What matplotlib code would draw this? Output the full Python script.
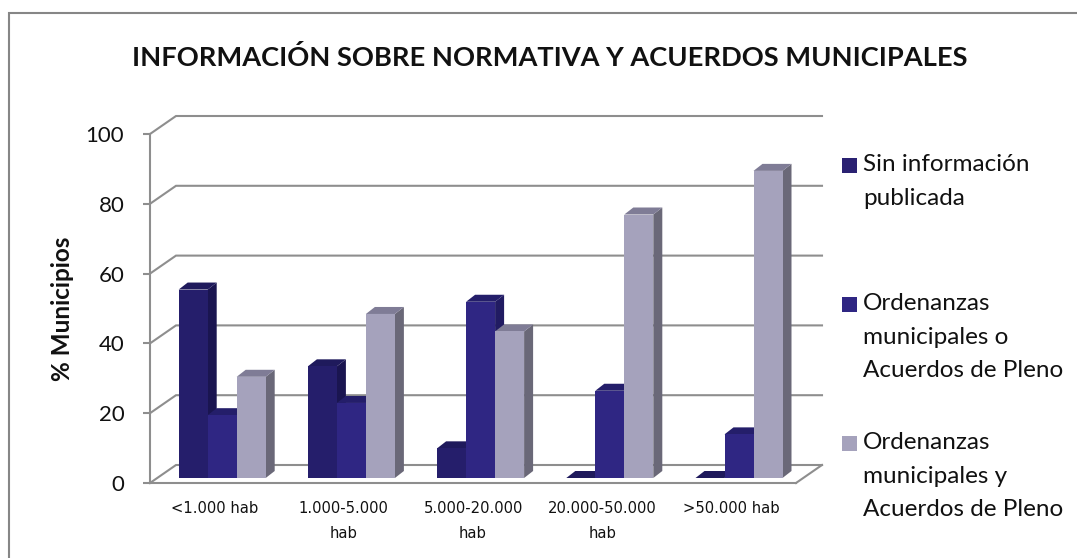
import numpy as np
import matplotlib
matplotlib.use('Agg')
import matplotlib.pyplot as plt
from matplotlib.lines import Line2D
from matplotlib.patches import Polygon, Rectangle

plt.rcParams['font.family'] = ['Lato', 'DejaVu Sans']

categorias = ['<1.000 hab', '1.000-5.000\nhab', '5.000-20.000\nhab', '20.000-50.000\nhab', '>50.000 hab']
sin_info = [54, 32, 8.5, 0, 0]
ordenanzas_o = [18, 21.5, 50.5, 25, 12.5]
ordenanzas_y = [29, 47, 42, 75.5, 88]
series_labels = ['Sin información\npublicada',
                 'Ordenanzas\nmunicipales o\nAcuerdos de Pleno',
                 'Ordenanzas\nmunicipales y\nAcuerdos de Pleno']
y_ticks = [0, 20, 40, 60, 80, 100]
titulo = 'INFORMACIÓN SOBRE NORMATIVA Y ACUERDOS MUNICIPALES'

W, H = 1077, 558
fig = plt.figure(figsize=(W / 100, H / 100), dpi=100)


def px(x, y):
    return x / W, 1 - y / H


# ejes: 0 en y=483, 100 en y=134, de x=150 a x=796
ax = fig.add_axes([150 / W, 1 - 483 / H, 646 / W, 349 / H])
ax.set_xlim(0, 5)
ax.set_ylim(0, 100)
ax.patch.set_alpha(0)

ux = 646 / 5   # px por categoria
uy = 349 / 100  # px por unidad
dx = 26 / ux
dy = 18 / uy
gris = '#8e8e8e'
lw = 1.5

# el marco se corta por la derecha y por abajo
fig.add_artist(Line2D([8.5 / W, 8.5 / W, 1], [0, 1 - 13 / H, 1 - 13 / H], transform=fig.transFigure,
                      color='#868686', lw=1.5, solid_joinstyle='miter'))

for v in y_ticks:
    ax.plot([0, dx, 5 + dx], [v, v + dy, v + dy], color=gris, lw=lw, clip_on=False, zorder=1,
            solid_joinstyle='miter')
ax.plot([5, 5 + dx], [0, dy], color=gris, lw=lw, clip_on=False, zorder=1)

# barras con falsa perspectiva
bw = 29 / ux
bx = 9 / ux
by = 7 / uy
off_x = 7.6 / ux
base = 5 / uy
estilos = [('#251e6b', '#1a1550', '#1f1a5c'),
           ('#2f2683', '#211b62', '#241e6a'),
           ('#a5a2bc', '#6a6878', '#7f7c96')]
xc = np.arange(5) + 0.5 + off_x
for i, vals in enumerate([sin_info, ordenanzas_o, ordenanzas_y]):
    front, side, top = estilos[i]
    xs = xc + (i - 1) * bw
    for x, v in zip(xs, vals):
        l, r = x - bw / 2, x + bw / 2
        z = 3 + i
        t = v + base
        ax.add_patch(Polygon([(r, base), (r + bx, base + by), (r + bx, t + by), (r, t)],
                             fc=side, ec='none', clip_on=False, zorder=z))
        ax.add_patch(Polygon([(l, t), (l + bx, t + by), (r + bx, t + by), (r, t)],
                             fc=top, ec='none', clip_on=False, zorder=z))
    ax.bar(xs, vals, width=bw, bottom=base, color=front, zorder=z, clip_on=False)

for s in ['top', 'right']:
    ax.spines[s].set_visible(False)
for s in ['left', 'bottom']:
    ax.spines[s].set_color(gris)
    ax.spines[s].set_linewidth(lw)
    ax.spines[s].set_zorder(2)

ax.set_yticks(y_ticks)
ax.tick_params(axis='y', length=5, width=lw, color=gris, labelsize=16, pad=13.5, labelcolor='#111111')
ax.set_xticks(np.arange(5) + 0.5)
ax.set_xticklabels(categorias, family='DejaVu Sans', fontsize=10.6, linespacing=1.8, color='#111111')
ax.tick_params(axis='x', length=0, pad=13)

fig.text(*px(62, 309), '% Municipios', rotation=90, fontsize=17.5, fontweight='bold',
         ha='center', va='center', color='#111111')
fig.text(*px(550, 57), titulo, fontsize=19.6, fontweight='bold', ha='center', va='center',
         color='#111111')

# leyenda
leg_col = ['#2a2172', '#2f2683', '#a5a2bc']
leg_y = [165, 304, 443]
for lab, c, y in zip(series_labels, leg_col, leg_y):
    fig.add_artist(Rectangle(px(842, y + 8), 15 / W, 15 / H, transform=fig.transFigure, fc=c, ec='none'))
    fig.text(*px(863, y - 11), lab, fontsize=17.5, va='top', ha='left', linespacing=1.74, color='#111111')

fig.savefig('out.png', dpi=100)
